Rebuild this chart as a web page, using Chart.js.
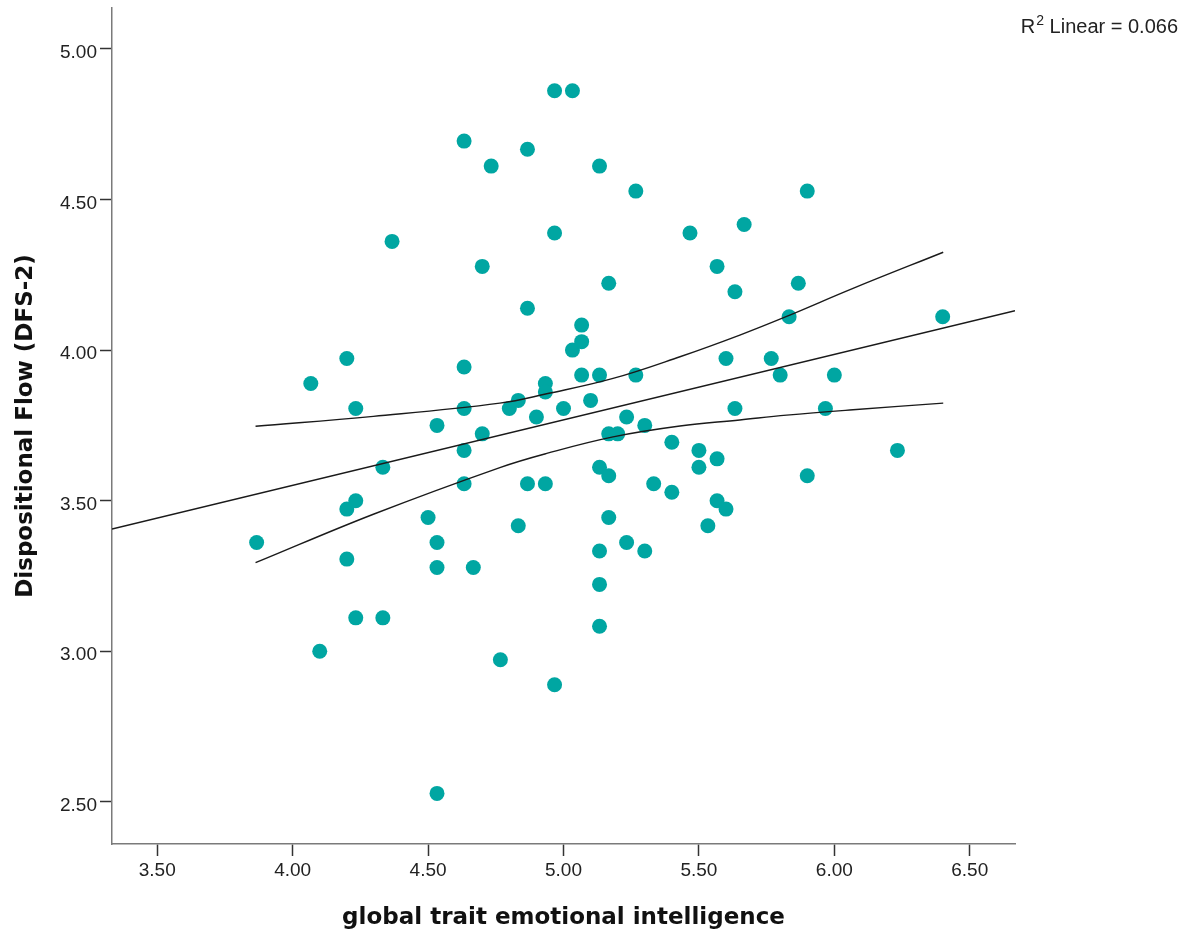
<!DOCTYPE html>
<html>
<head>
<meta charset="utf-8">
<script src="https://cdn.jsdelivr.net/npm/chart.js@4.4.1/dist/chart.umd.min.js"></script>
<style>
  html, body { margin: 0; padding: 0; background: #fff; }
  #wrap { width: 1192px; height: 935px; }
</style>
</head>
<body>
<div id="wrap"><canvas id="grafico" width="1192" height="935"></canvas></div>
<script>
// global trait EI (x) and DFS-2 (y)
const traitEI = [
  3.867, 4.067, 4.1, 4.2, 4.2, 4.2, 4.233, 4.233, 4.233, 4.333,
  4.333, 4.367, 4.5, 4.533, 4.533, 4.533, 4.533, 4.633, 4.633, 4.633,
  4.633, 4.633, 4.667, 4.7, 4.7, 4.733, 4.767, 4.8, 4.833, 4.833,
  4.867, 4.867, 4.867, 4.9, 4.933, 4.933, 4.933, 4.967, 4.967, 4.967,
  5.0, 5.033, 5.033, 5.067, 5.067, 5.067, 5.1, 5.133, 5.133, 5.133,
  5.133, 5.133, 5.133, 5.167, 5.167, 5.167, 5.167, 5.2, 5.233, 5.233,
  5.267, 5.267, 5.3, 5.3, 5.333, 5.4, 5.4, 5.467, 5.5, 5.5,
  5.533, 5.567, 5.567, 5.567, 5.6, 5.6, 5.633, 5.633, 5.667, 5.767,
  5.8, 5.833, 5.867, 5.9, 5.9, 5.967, 6.0, 6.233, 6.4
];
const flow = [
  3.361, 3.889, 3.0, 3.972, 3.472, 3.306, 3.806, 3.5, 3.111, 3.611,
  3.111, 4.361, 3.444, 3.75, 3.361, 3.278, 2.528, 4.694, 3.944, 3.806,
  3.667, 3.556, 3.278, 4.278, 3.722, 4.611, 2.972, 3.806, 3.833, 3.417,
  4.667, 4.139, 3.556, 3.778, 3.889, 3.861, 3.556, 4.861, 4.389, 2.889,
  3.806, 4.861, 4.0, 4.083, 4.028, 3.917, 3.833, 4.611, 3.917, 3.611,
  3.333, 3.222, 3.083, 4.222, 3.722, 3.583, 3.444, 3.722, 3.778, 3.361,
  4.528, 3.917, 3.75, 3.333, 3.556, 3.694, 3.528, 4.389, 3.667, 3.611,
  3.417, 4.278, 3.639, 3.5, 3.972, 3.472, 4.194, 3.806, 4.417, 3.972,
  3.917, 4.111, 4.222, 4.528, 3.583, 3.806, 3.917, 3.667, 4.111
];

// fit line ends and 95% band
const fitX = [3.333, 6.667];
const fitY = [3.406, 4.131];
const bandX = [3.863, 4.298, 4.765, 4.938, 5.183, 5.430, 5.651, 5.824, 6.069, 6.402];
const upperY = [3.747, 3.780, 3.824, 3.855, 3.906, 3.978, 4.050, 4.112, 4.205, 4.325];
const lowerY = [3.294, 3.455, 3.610, 3.657, 3.712, 3.748, 3.768, 3.784, 3.802, 3.824];

const xTicks = [3.5, 4.0, 4.5, 5.0, 5.5, 6.0, 6.5];
const yTicks = [2.5, 3.0, 3.5, 4.0, 4.5, 5.0];
const r2Label = { base: "R", sup: "2", rest: " Linear = 0.066" };

const pares = (xs, ys) => xs.map((x, i) => ({ x: x, y: ys[i] }));

const lineaNegra = {
  type: "scatter",
  showLine: true,
  pointRadius: 0,
  borderColor: "#1a1a1a",
  borderWidth: 1.4,
  order: 1
};

const textoR2 = {
  id: "textoR2",
  afterDraw(chart) {
    const ctx = chart.ctx;
    ctx.save();
    ctx.fillStyle = "#222";
    ctx.textBaseline = "alphabetic";
    ctx.font = "20px 'Liberation Sans', Arial, sans-serif";
    const wBase = ctx.measureText(r2Label.base).width;
    const wRest = ctx.measureText(r2Label.rest).width;
    ctx.font = "14px 'Liberation Sans', Arial, sans-serif";
    const wSup = ctx.measureText(r2Label.sup).width;
    let x = 1178 - (wBase + wSup + 1 + wRest);
    ctx.font = "20px 'Liberation Sans', Arial, sans-serif";
    ctx.fillText(r2Label.base, x, 33);
    x += wBase + 1;
    ctx.font = "14px 'Liberation Sans', Arial, sans-serif";
    ctx.fillText(r2Label.sup, x, 25);
    x += wSup;
    ctx.font = "20px 'Liberation Sans', Arial, sans-serif";
    ctx.fillText(r2Label.rest, x, 33);
    ctx.restore();
  }
};

const tickFont = { family: "'Liberation Sans', Arial, sans-serif", size: 19 };
const titleFont = { family: "'DejaVu Sans', Verdana, sans-serif", size: 23, weight: "bold" };

new Chart(document.getElementById("grafico").getContext("2d"), {
  type: "scatter",
  data: {
    datasets: [
      Object.assign({}, lineaNegra, { data: pares(fitX, fitY) }),
      Object.assign({}, lineaNegra, { data: pares(bandX, upperY), tension: 0.4 }),
      Object.assign({}, lineaNegra, { data: pares(bandX, lowerY), tension: 0.4 }),
      {
        type: "scatter",
        data: pares(traitEI, flow),
        backgroundColor: "#00a6a2",
        borderWidth: 0,
        pointRadius: 7.5,
        order: 2
      }
    ]
  },
  options: {
    responsive: false,
    animation: false,
    layout: { padding: { top: 8, right: 177, left: 0, bottom: 0 } },
    plugins: { legend: { display: false }, tooltip: { enabled: false } },
    scales: {
      x: {
        min: 3.333,
        max: 6.667,
        afterBuildTicks: s => { s.ticks = xTicks.map(v => ({ value: v })); },
        afterFit: s => { s.height = 91; s.paddingLeft = 0; s.paddingRight = 0; },
        ticks: { font: tickFont, color: "#222", padding: 3, callback: v => v.toFixed(2) },
        grid: { drawOnChartArea: false, drawTicks: true, tickLength: 12, tickColor: "#333", tickWidth: 1.5 },
        border: { color: "#7a7a7a", width: 1.5 },
        title: {
          display: true,
          text: "global trait emotional intelligence",
          font: titleFont,
          color: "#111",
          padding: { top: 0, bottom: 3 }
        }
      },
      y: {
        min: 2.36,
        max: 5.136,
        afterBuildTicks: s => { s.ticks = yTicks.map(v => ({ value: v })); },
        afterFit: s => { s.width = 112; s.paddingTop = 0; s.paddingBottom = 0; },
        ticks: { font: tickFont, color: "#222", padding: 3, labelOffset: 4, callback: v => v.toFixed(2) },
        grid: { drawOnChartArea: false, drawTicks: true, tickLength: 12, tickColor: "#333", tickWidth: 1.5 },
        border: { color: "#7a7a7a", width: 1.5 },
        title: {
          display: true,
          text: "Dispositional Flow (DFS-2)",
          font: titleFont,
          color: "#111",
          padding: { top: 12, bottom: 0 }
        }
      }
    }
  },
  plugins: [textoR2]
});
</script>
</body>
</html>
